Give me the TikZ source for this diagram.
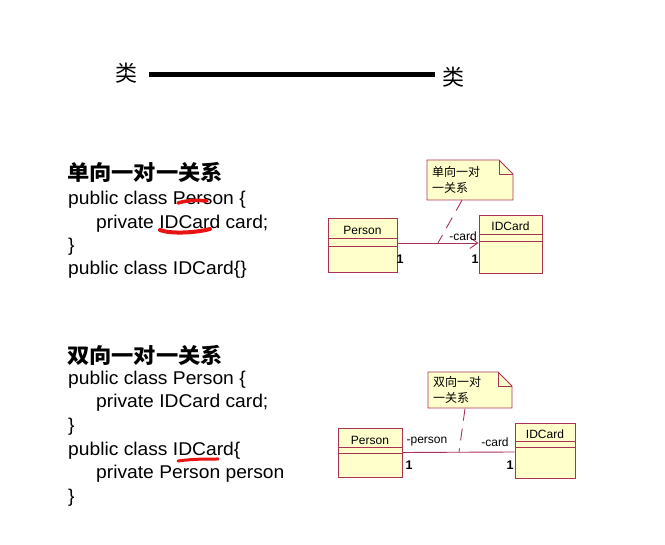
\documentclass[tikz,border=0pt]{standalone}
\usepackage{fontspec}
\usepackage{tikz}
\usetikzlibrary{arrows.meta}
\newfontfamily\cjk{Noto Sans CJK SC}
\newfontfamily\titlefont[FakeStretch=1.06]{Noto Sans CJK SC}
\newfontfamily\codefont[FakeStretch=1.04]{Liberation Sans}
\newfontfamily\umlfont{Liberation Sans}
\definecolor{umlline}{RGB}{170,50,85}
\definecolor{umlfill}{RGB}{255,255,204}
\definecolor{markred}{RGB}{232,20,20}

\begin{document}
\begin{tikzpicture}[x=1pt,y=-1pt,
  classbox/.style={draw=umlline,fill=umlfill,line width=0.9pt,inner sep=0pt},
  divider/.style={umlline,line width=0.9pt},
  notebox/.style={draw=umlline,fill=umlfill,line width=0.9pt,line join=miter},
  notetext/.style={inner sep=5pt,text width=76pt,align=left,font=\cjk\fontsize{12}{16}\selectfont},
  umltext/.style={inner sep=0pt,font=\umlfont\fontsize{12}{14}\selectfont},
  mult/.style={inner sep=0pt,font=\umlfont\bfseries\fontsize{12.5}{14}\selectfont},
  assoc/.style={umlline,line width=0.9pt},
  notelink/.style={umlline,line width=0.9pt,dash pattern=on 12pt off 8pt},
  codeline/.style={anchor=base west,inner sep=0pt,font=\codefont\fontsize{18.5}{22}\selectfont},
  heading/.style={anchor=west,inner sep=0pt,font=\titlefont\bfseries\fontsize{21}{24}\selectfont},
  redmark/.style={markred,line width=3.5pt,line cap=round}]
\useasboundingbox (0,0) rectangle (665,545);

\node [inner sep=0pt,font=\cjk\fontsize{22}{24}\selectfont] (lei1) at (126,73) {类};
\node [inner sep=0pt,font=\cjk\fontsize{22}{24}\selectfont] (lei2) at (453,77) {类};
\draw [line width=5pt,shorten <=12pt,shorten >=7pt] ([yshift=-2pt]lei1.east) -- ([yshift=2pt]lei2.west);

\node [heading] (h1) at (67,172.5) {单向一对一关系};
\node [codeline] (a1) at (68,205) {public class Person \{};
\node [codeline] (a2) at (96,229) {private IDCard card;};
\node [codeline] (a3) at (68,252) {\}};
\node [codeline] (a4) at (68,275) {public class IDCard\{\}};
\draw [redmark] (178,203) .. controls (188,200) and (198,200) .. (207,201);
\draw [redmark,line width=4pt] (160,230) .. controls (170,234) and (195,233) .. (210,229);

\node [heading] (h2) at (67,355) {双向一对一关系};
\node [codeline] (b1) at (68,385) {public class Person \{};
\node [codeline] (b2) at (96,408) {private IDCard card;};
\node [codeline] (b3) at (68,432) {\}};
\node [codeline] (b4) at (68,456) {public class IDCard\{};
\node [codeline] (b5) at (96,479) {private Person person};
\node [codeline] (b6) at (68,503) {\}};
\draw [redmark,line width=3pt] (178,461) .. controls (192,459) and (205,459) .. (218,459);

\node [classbox,minimum width=69pt,minimum height=54pt] (p1) at (362.5,245) {};
\node [umltext] (p1name) at (362.5,230) {Person};
\draw [divider] ([yshift=-21pt]p1.north west) -- ([yshift=-21pt]p1.north east);
\draw [divider] ([yshift=-29pt]p1.north west) -- ([yshift=-29pt]p1.north east);
\node [classbox,minimum width=63pt,minimum height=58pt] (i1) at (510.5,244) {};
\node [umltext] (i1name) at (510.5,226) {IDCard};
\draw [divider] ([yshift=-20pt]i1.north west) -- ([yshift=-20pt]i1.north east);
\draw [divider] ([yshift=-27pt]i1.north west) -- ([yshift=-27pt]i1.north east);
\draw [assoc,-{Straight Barb[length=8pt,width=11pt]}] ([yshift=2pt]p1.east) -- ([yshift=1pt]i1.west);
\coordinate (c1) at (438,243);
\node [umltext,anchor=south east] (r1) at (477,241) {-card};
\node [mult] (m1) at (400,259) {1};
\node [mult] (m2) at (475,259) {1};
\filldraw [notebox] (427,160) -- (499,160) -- (513,174) -- (513,200) -- (427,200) -- cycle;
\draw [notebox,fill=none] (499,160) -- (499,174) -- (513,174);
\node [notetext,minimum width=86pt,minimum height=40pt] (n1) at (470,180) {单向一对\\一关系};
\draw [notelink] ([xshift=-8pt]n1.south) -- (c1);

\node [classbox,minimum width=64pt,minimum height=49pt] (p2) at (370,452.5) {};
\node [umltext] (p2name) at (370,440) {Person};
\draw [divider] ([yshift=-20pt]p2.north west) -- ([yshift=-20pt]p2.north east);
\draw [divider] ([yshift=-26pt]p2.north west) -- ([yshift=-26pt]p2.north east);
\node [classbox,minimum width=60pt,minimum height=55pt] (i2) at (545,450.5) {};
\node [umltext] (i2name) at (545,434) {IDCard};
\draw [divider] ([yshift=-19pt]i2.north west) -- ([yshift=-19pt]i2.north east);
\draw [divider] ([yshift=-25pt]i2.north west) -- ([yshift=-25pt]i2.north east);
\draw [assoc] (p2.east) -- ([yshift=-1.5pt]i2.west);
\coordinate (c2) at (459,452);
\node [umltext] (r2) at (427,442) {-person};
\node [umltext] (r3) at (495,442) {-card};
\node [mult] (m3) at (409,465) {1};
\node [mult] (m4) at (510,465) {1};
\filldraw [notebox] (428,372) -- (498,372) -- (512,386) -- (512,408) -- (428,408) -- cycle;
\draw [notebox,fill=none] (498,372) -- (498,386) -- (512,386);
\node [notetext,minimum width=84pt,minimum height=36pt,text width=74pt] (n2) at (470,390) {双向一对\\一关系};
\draw [notelink] ([xshift=-5pt]n2.south) -- (c2);
\end{tikzpicture}
\end{document}
